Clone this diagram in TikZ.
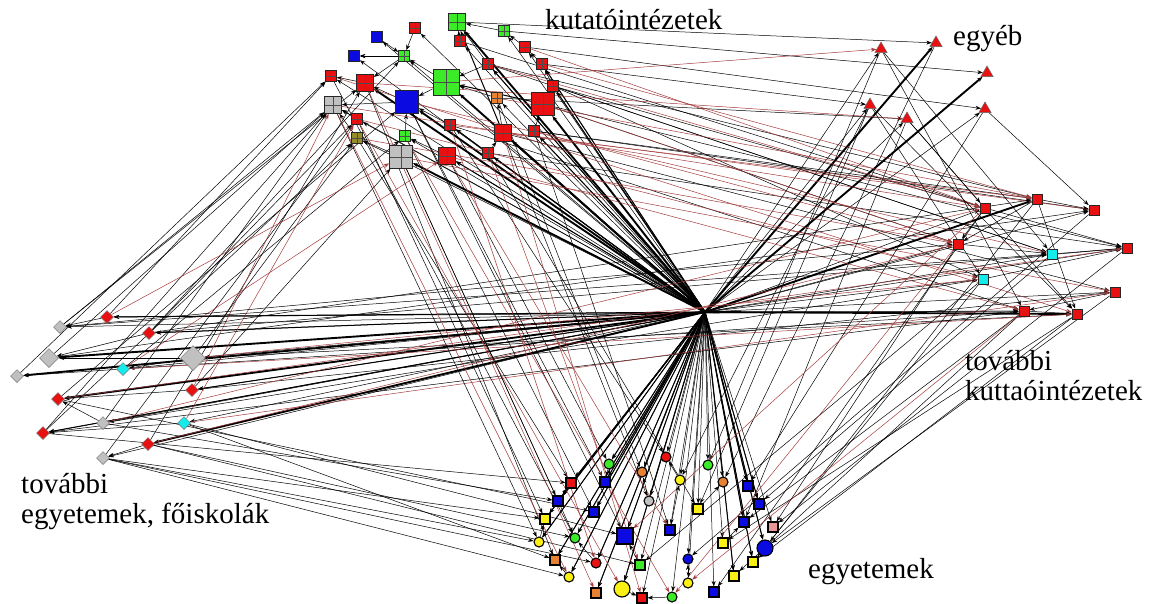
\documentclass[tikz,border=0pt]{standalone}
\usepackage{fontspec}
\setmainfont{Liberation Serif}
\usetikzlibrary{shapes.geometric,arrows.meta,backgrounds}
\definecolor{nred}{RGB}{232,16,16}
\definecolor{ngreen}{RGB}{60,235,40}
\definecolor{nblue}{RGB}{10,10,225}
\definecolor{ngray}{RGB}{192,192,192}
\definecolor{norange}{RGB}{230,130,50}
\definecolor{nyellow}{RGB}{250,240,20}
\definecolor{ncyan}{RGB}{20,235,235}
\definecolor{nolive}{RGB}{150,140,40}
\definecolor{npink}{RGB}{235,150,150}
\definecolor{edgered}{RGB}{165,60,60}
\tikzset{
  e/.style={draw=black, line width=0.5pt, -{Stealth[length=5.5pt,width=4pt]}},
  eb/.style={e, line width=1.9pt},
  em/.style={e, line width=1pt},
  er/.style={draw=edgered, line width=0.5pt, -{Stealth[length=5.5pt,width=4pt]}},
  sq/.style={rectangle, draw=black!85, line width=0.7pt, inner sep=0pt, minimum size=#1},
  gq/.style={sq=#1, path picture={\draw[black!70, line width=0.5pt]
      (path picture bounding box.north) -- (path picture bounding box.south)
      (path picture bounding box.west) -- (path picture bounding box.east);}},
  bq/.style={rectangle, draw=black, line width=1.1pt, inner sep=0pt, minimum size=#1},
  ci/.style={circle, draw=black, line width=1.1pt, inner sep=0pt, minimum size=#1},
  di/.style={diamond, draw=black!55, line width=0.5pt, inner sep=0pt, minimum width=#1, minimum height=#1},
  tri/.style={regular polygon, regular polygon sides=3, fill=nred, draw=black!60, line width=0.5pt, inner sep=0pt, minimum size=#1},
  lab/.style={font=\fontsize{29}{34}\selectfont, inner sep=0pt, anchor=base west},
}
\begin{document}
\begin{tikzpicture}[x=1pt,y=-1pt]
\useasboundingbox (0,0) rectangle (1157,603);
\coordinate (hub) at (705,312);

% research institutes (upper cluster)
\node[gq=17, fill=ngreen] (t1) at (457,22) {};
\node[gq=11, fill=ngreen] (t2) at (504,31) {};
\node[gq=11, fill=nred] (t3) at (415,28) {};
\node[sq=11, fill=nblue] (t4) at (377,37) {};
\node[gq=11, fill=nred] (t5) at (460,41) {};
\node[gq=11, fill=nred] (t6) at (525,47) {};
\node[sq=11, fill=nblue] (t7) at (354,56) {};
\node[gq=11, fill=ngreen] (t8) at (404,56) {};
\node[gq=11, fill=nred] (t9) at (488,64) {};
\node[gq=11, fill=nred] (t10) at (542,64) {};
\node[gq=11, fill=nred] (t11) at (331,76) {};
\node[gq=17, fill=nred] (t12) at (365,83) {};
\node[gq=26, fill=ngreen] (t13) at (446,82) {};
\node[gq=11, fill=nred] (t14) at (553,86) {};
\node[gq=17, fill=ngray] (t15) at (333,105) {};
\node[sq=23, fill=nblue] (t16) at (407,102) {};
\node[gq=11, fill=norange] (t17) at (497,98) {};
\node[gq=23, fill=nred] (t18) at (543,104) {};
\node[gq=11, fill=nred] (t19) at (357,119) {};
\node[gq=11, fill=nred] (t20) at (450,125) {};
\node[gq=17, fill=nred] (t21) at (503,133) {};
\node[gq=11, fill=nred] (t22) at (534,131) {};
\node[gq=11, fill=nolive] (t23) at (357,138) {};
\node[gq=11, fill=ngreen] (t24) at (405,136) {};
\node[gq=23, fill=ngray] (t25) at (401,157) {};
\node[gq=17, fill=nred] (t26) at (447,156) {};
\node[gq=11, fill=nred] (t27) at (488,153) {};

% other organisations (triangles)
\node[tri=14] (r1) at (881,49) {};
\node[tri=14] (r2) at (936,43) {};
\node[tri=14] (r3) at (987,73) {};
\node[tri=14] (r4) at (870,105) {};
\node[tri=14] (r5) at (907,119) {};
\node[tri=14] (r6) at (985,109) {};

% further research institutes (right)
\node[sq=10, fill=nred] (s1) at (1037,199) {};
\node[sq=10, fill=nred] (s2) at (985,208) {};
\node[sq=10, fill=nred] (s3) at (1094,210) {};
\node[sq=10, fill=nred] (s4) at (958,244) {};
\node[sq=10, fill=ncyan] (s5) at (1052,254) {};
\node[sq=10, fill=nred] (s6) at (1127,248) {};
\node[sq=10, fill=ncyan] (s7) at (983,279) {};
\node[sq=10, fill=nred] (s8) at (1115,292) {};
\node[sq=10, fill=nred] (s9) at (1024,311) {};
\node[sq=10, fill=nred] (s10) at (1077,314) {};

% further universities and colleges (left diamonds)
\node[di=13, fill=ngray] (l1) at (60,327) {};
\node[di=13, fill=nred] (l2) at (107,317) {};
\node[di=13, fill=nred] (l3) at (149,333) {};
\node[di=19, fill=ngray] (l4) at (49,358) {};
\node[di=25, fill=ngray] (l5) at (193,358) {};
\node[di=13, fill=ncyan] (l6) at (123,369) {};
\node[di=13, fill=ngray] (l7) at (17,376) {};
\node[di=13, fill=nred] (l8) at (192,390) {};
\node[di=13, fill=nred] (l9) at (58,399) {};
\node[di=13, fill=ngray] (l10) at (103,423) {};
\node[di=13, fill=ncyan] (l11) at (184,423) {};
\node[di=13, fill=nred] (l12) at (43,433) {};
\node[di=13, fill=nred] (l13) at (148,444) {};
\node[di=13, fill=ngray] (l14) at (103,458) {};

% universities (lower cluster)
\node[ci=10, fill=ngreen] (b1) at (609,464) {};
\node[ci=10, fill=nred] (b2) at (666,457) {};
\node[ci=10, fill=ngreen] (b3) at (708,465) {};
\node[ci=10, fill=norange] (b4) at (642,472) {};
\node[ci=10, fill=nyellow] (b5) at (680,480) {};
\node[ci=10, fill=norange] (b6) at (723,482) {};
\node[bq=10, fill=nred] (b7) at (571,483) {};
\node[bq=10, fill=nblue] (b8) at (605,482) {};
\node[bq=10, fill=nblue] (b9) at (748,486) {};
\node[bq=10, fill=nblue] (b10) at (558,501) {};
\node[ci=10, fill=ngray] (b11) at (649,501) {};
\node[bq=10, fill=nblue] (b12) at (759,504) {};
\node[bq=10, fill=nyellow] (b13) at (698,509) {};
\node[bq=10, fill=nblue] (b14) at (594,512) {};
\node[bq=10, fill=nyellow] (b15) at (545,519) {};
\node[bq=10, fill=nblue] (b16) at (744,522) {};
\node[bq=10, fill=npink] (b17) at (773,527) {};
\node[bq=16, fill=nblue] (b18) at (625,536) {};
\node[bq=10, fill=nblue] (b19) at (670,530) {};
\node[ci=10, fill=ngreen] (b20) at (575,538) {};
\node[ci=10, fill=nyellow] (b21) at (539,542) {};
\node[bq=10, fill=nyellow] (b22) at (723,543) {};
\node[ci=16, fill=nblue] (b23) at (765,548) {};
\node[bq=10, fill=norange] (b24) at (555,560) {};
\node[ci=10, fill=nred] (b25) at (596,563) {};
\node[bq=10, fill=ngreen] (b26) at (640,565) {};
\node[ci=10, fill=nblue] (b27) at (688,559) {};
\node[bq=10, fill=nyellow] (b28) at (753,562) {};
\node[ci=10, fill=nyellow] (b29) at (569,577) {};
\node[bq=10, fill=nyellow] (b30) at (734,576) {};
\node[ci=10, fill=nyellow] (b31) at (688,583) {};
\node[bq=10, fill=norange] (b32) at (596,593) {};
\node[ci=16, fill=nyellow] (b33) at (622,589) {};
\node[bq=10, fill=nred] (b34) at (642,598) {};
\node[ci=10, fill=ngreen] (b35) at (672,597) {};
\node[bq=10, fill=nblue] (b36) at (714,592) {};

% group labels
\node[lab] (lk) at (545,29) {kutatóintézetek};
\node[lab] (le) at (953,45) {egyéb};
\node[lab] (lt1) at (965,370) {további};
\node[lab] (lt2) at (965,400) {kuttaóintézetek};
\node[lab] (lf1) at (21,493) {további};
\node[lab] (lf2) at (21,523) {egyetemek, főiskolák};
\node[lab] (lu) at (808,578) {egyetemek};

\begin{pgfonlayer}{background}
% spokes from the central point
\foreach \n in {t2,t3,t4,t5,t6,t7,t8,t9,t10,t11,t14,t15,t17,t19,t20,t22,t23,t24,t26,t27}
  \draw[e] (hub) -- (\n);
\foreach \n in {t1,t12,t16,t18,t21,t25,t13}
  \draw[eb] (hub) -- (\n);
\foreach \n in {t9,t10,t20,t26,t22,t14}
  \draw[em] (hub) -- (\n);
\foreach \n in {r1,r4,r5,r6,s2,s3,s4,s5,s6,s7,s8,s9}
  \draw[e] (hub) -- (\n);
\foreach \n in {r2,r3,s1,s10}
  \draw[eb] (hub) -- (\n);
\foreach \n in {l1,l2,l3,l5,l6,l8,l10,l11,l12,l14}
  \draw[e] (hub) -- (\n);
\foreach \n in {l4,l7,l9,l13}
  \draw[eb] (hub) -- (\n);
\foreach \n in {l2,l3,l8,l12}
  \draw[em] (hub) -- (\n);
\foreach \i in {1,...,36}
  \draw[e] (hub) -- (b\i);
\foreach \n in {b18,b23,b33,b21,b29,b7,b10,b15,b20,b24,b14,b1,b8,b25,b32,b9,b12,b16,b28,b30}
  \draw[em] (hub) -- (\n);

% links inside the upper cluster
\foreach \a/\b in {t8/t7,t13/t16,t3/t8,t8/t12,t16/t15,t2/t1,t9/t1,t14/t10,t6/t2,t12/t11,t19/t15,t24/t16,t21/t17,t18/t14,t4/t8,t22/t18,t26/t24,t20/t16,t23/t15,t25/t23,t17/t13,t5/t1,t27/t21,t10/t6,t13/t8,t16/t12,t9/t13}
  \draw[e] (\a) -- (\b);
\draw[em] (t21) -- (t1);
\draw[em] (t18) -- (t13);
\draw[em] (t8) -- (t7);

% upper cluster to the right
\foreach \a/\b in {t2/r3,t6/r6,t9/s1,t14/s2,t22/s3,t9/s5,t14/s7,t18/s4,t10/r4,t5/s2,t21/s8,t27/s6,t20/s9,t17/r5,t1/r2,t18/s6,t14/s5,t22/s1}
  \draw[e] (\a) -- (\b);
\foreach \a/\b in {t13/r1,t6/s2,t10/s1,t18/s4,t17/s1,t12/r5,t26/s9,t19/s7,t11/s10,t15/s2,t23/s4,t16/s5,t25/s8,t20/s3,t9/s2,t21/s1,t22/s4}
  \draw[er] (\a) -- (\b);

% right group among itself
\foreach \a/\b in {r6/s3,s1/s3,s1/s10,s9/s10,s5/s6,r5/s2,r4/s7,s2/s4,s1/s4,s7/s6,s8/s9,r1/s5,r5/s10,s4/s5,s2/s6,r4/s10,r1/s9}
  \draw[e] (\a) -- (\b);

% left group to the upper cluster
\foreach \a/\b in {l1/t12,l1/t15,l4/t15,l2/t11,l3/t19,l5/t23,l6/t24,l8/t25,l10/t15,l12/t23,l14/t19,l9/t16,l7/t11,l13/t12,l3/t8,l12/t15}
  \draw[e] (\a) -- (\b);
\foreach \a/\b in {l2/t25,l11/t19,l8/t15,l6/t26}
  \draw[er] (\a) -- (\b);

% left group among itself
\foreach \a/\b in {l8/l9,l13/l14,l5/l6,l6/l7,l3/l4,l11/l12,l10/l9,l2/l1,l5/l4}
  \draw[e] (\a) -- (\b);

% left group to the right
\foreach \a/\b in {l2/s9,l1/s4,l3/s1,l8/s8,l5/s10,l10/s7,l12/s9,l4/s3,l1/s5,l3/s6,l6/s9}
  \draw[e] (\a) -- (\b);
\foreach \a/\b in {l6/s10,l11/s8,l5/s7,l9/s6,l13/s4,l10/s2}
  \draw[er] (\a) -- (\b);

% left group to the lower cluster
\foreach \a/\b in {l14/b21,l14/b15,l14/b29,l10/b10,l11/b24,l13/b20,l12/b7,l9/b14,l11/b18,l14/b25,l13/b26}
  \draw[e] (\a) -- (\b);

% upper cluster to the lower cluster
\foreach \a/\b in {t15/b21,t19/b15,t23/b7,t25/b10,t24/b14,t11/b20,t16/b8,t26/b1,t21/b11,t22/b19,t12/b24,t20/b2,t27/b13,t17/b4,t16/b18,t25/b20}
  \draw[e] (\a) -- (\b);
\foreach \a/\b in {t26/b19,t20/b25,t15/b29,t12/b32,t27/b26,t21/b34,t19/b33,t24/b35}
  \draw[er] (\a) -- (\b);

% right to the lower cluster
\foreach \a/\b in {s1/b23,s4/b17,s7/b28,s9/b30,s10/b22,s5/b12,r6/b9,r5/b16,s8/b23,r4/b13,s2/b36,s3/b27,s6/b17,r1/b3,r2/b6,s10/b28,s9/b16,s7/b26,r4/b5}
  \draw[e] (\a) -- (\b);
\foreach \a/\b in {s9/b31,s4/b35,s2/b18}
  \draw[er] (\a) -- (\b);

% inside the lower cluster
\foreach \a/\b in {b21/b15,b29/b24,b33/b34,b25/b20,b11/b4,b5/b2,b31/b27,b10/b7,b35/b34,b13/b6,b26/b18,b1/b8,b19/b5,b22/b16}
  \draw[e] (\a) -- (\b);
\end{pgfonlayer}
\end{tikzpicture}
\end{document}
